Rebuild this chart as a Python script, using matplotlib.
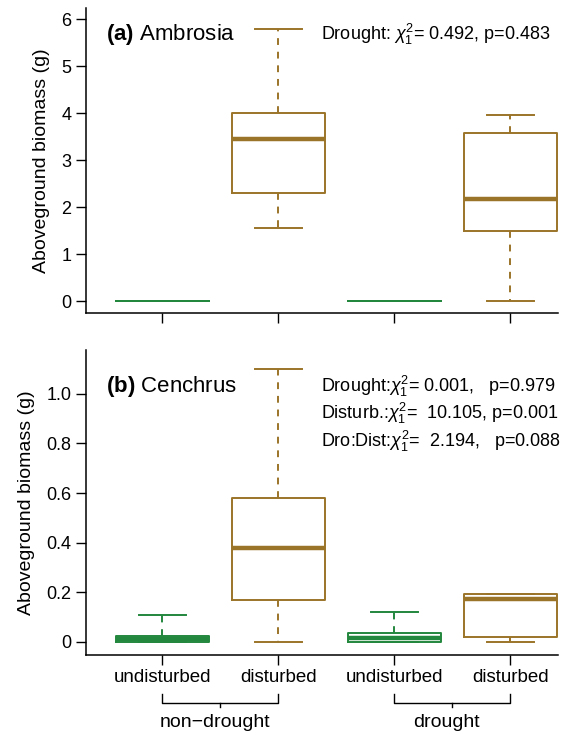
import matplotlib
matplotlib.use('Agg')
import matplotlib.pyplot as plt
import matplotlib.transforms as mtransforms

plt.rcParams['font.family'] = ['Liberation Sans', 'DejaVu Sans']
plt.rcParams['mathtext.fontset'] = 'custom'
plt.rcParams['mathtext.rm'] = 'Liberation Sans'
plt.rcParams['mathtext.it'] = 'Liberation Sans:italic'
plt.rcParams['mathtext.bf'] = 'Liberation Sans:bold'

GREEN = '#23873d'
BROWN = '#9a7428'

treatments = ['undisturbed', 'disturbed', 'undisturbed', 'disturbed']
groups = ['non\u2212drought', 'drought']
box_colors = [GREEN, BROWN, GREEN, BROWN]

# (a) Ambrosia: lower whisker, Q1, median, Q3, upper whisker
amb_lo = [0.0, 1.55, 0.0, 0.0]
amb_q1 = [0.0, 2.30, 0.0, 1.50]
amb_med = [0.0, 3.45, 0.0, 2.18]
amb_q3 = [0.0, 4.00, 0.0, 3.58]
amb_hi = [0.0, 5.78, 0.0, 3.95]

# (b) Cenchrus
cen_lo = [0.0, 0.0, 0.0, 0.0]
cen_q1 = [0.0, 0.17, 0.0, 0.022]
cen_med = [0.013, 0.38, 0.018, 0.172]
cen_q3 = [0.026, 0.58, 0.037, 0.192]
cen_hi = [0.11, 1.10, 0.12, 0.192]

amb_stats_text = [r'Drought: $\chi^2_1$= 0.492, p=0.483']
cen_stats_text = [r'Drought:$\chi^2_1$= 0.001,   p=0.979',
                  r'Disturb.:$\chi^2_1$=  10.105, p=0.001',
                  r'Dro:Dist:$\chi^2_1$=  2.194,   p=0.088']


def draw_boxes(ax, lo, q1, med, q3, hi):
    positions = list(range(1, len(lo) + 1))
    for i, pos in enumerate(positions):
        st = [{'whislo': lo[i], 'q1': q1[i], 'med': med[i], 'q3': q3[i],
               'whishi': hi[i], 'fliers': []}]
        c = box_colors[i]
        # a collapsed box (all zeros) shows as a thin line only
        mlw = 1.4 if q1[i] == q3[i] else 3.2
        ax.bxp(st, positions=[pos], widths=0.8, showfliers=False,
               boxprops=dict(color=c, linewidth=1.4, clip_on=False),
               medianprops=dict(color=c, linewidth=mlw, solid_capstyle='butt',
                                clip_on=False),
               whiskerprops=dict(color=c, linewidth=1.4, linestyle=(0, (3.5, 3.5))),
               capprops=dict(color=c, linewidth=1.4), capwidths=0.4)


def style_axes(ax):
    for s in ['top', 'right']:
        ax.spines[s].set_visible(False)
    for s in ['left', 'bottom']:
        ax.spines[s].set_linewidth(1.1)
    ax.tick_params(direction='out', length=7, width=1.0, labelsize=13)
    ax.set_xlim(0.34, 4.41)
    ax.set_xticks([1, 2, 3, 4])
    ax.set_ylabel('Aboveground biomass (g)', fontsize=14, labelpad=8)


fig = plt.figure(figsize=(5.8, 7.35), dpi=100)
ax1 = fig.add_axes([0.148, 0.574, 0.814, 0.415])
ax2 = fig.add_axes([0.148, 0.109, 0.814, 0.415])

draw_boxes(ax1, amb_lo, amb_q1, amb_med, amb_q3, amb_hi)
style_axes(ax1)
ax1.set_ylim(-0.255, 6.234)
ax1.set_yticks([0, 1, 2, 3, 4, 5, 6])
ax1.set_xticklabels([])
ax1.text(0.042, 0.915, r'$\mathbf{(a)}$ Ambrosia', transform=ax1.transAxes,
         fontsize=16, va='center')
ax1.text(0.498, 0.915, amb_stats_text[0], transform=ax1.transAxes,
         fontsize=13, va='center')

draw_boxes(ax2, cen_lo, cen_q1, cen_med, cen_q3, cen_hi)
style_axes(ax2)
ax2.set_ylim(-0.052, 1.177)
ax2.set_yticks([0, 0.2, 0.4, 0.6, 0.8, 1.0])
ax2.set_yticklabels(['0', '0.2', '0.4', '0.6', '0.8', '1.0'])
ax2.set_xticklabels(treatments, fontsize=13.5)
ax2.text(0.042, 0.88, r'$\mathbf{(b)}$ Cenchrus', transform=ax2.transAxes,
         fontsize=16, va='center')
for k, t in enumerate(cen_stats_text):
    ax2.text(0.498, 0.88 - k * 0.09, t, transform=ax2.transAxes,
             fontsize=13, va='center')

# group brackets under the x axis
trans = mtransforms.blended_transform_factory(ax2.transData, ax2.transAxes)
for g, name in enumerate(groups):
    x0, x1 = 2 * g + 1, 2 * g + 2
    yb = -0.158
    ax2.plot([x0, x0, x1, x1], [yb + 0.03, yb, yb, yb + 0.03], color='black',
             lw=1.0, transform=trans, clip_on=False)
    xm = (x0 + x1) / 2
    ax2.plot([xm, xm], [yb, yb - 0.012], color='black', lw=1.0,
             transform=trans, clip_on=False)
    ax2.text(xm - 0.05, yb - 0.063, name, transform=trans, ha='center',
             va='center', fontsize=14)

fig.savefig('out.png', dpi=100)
